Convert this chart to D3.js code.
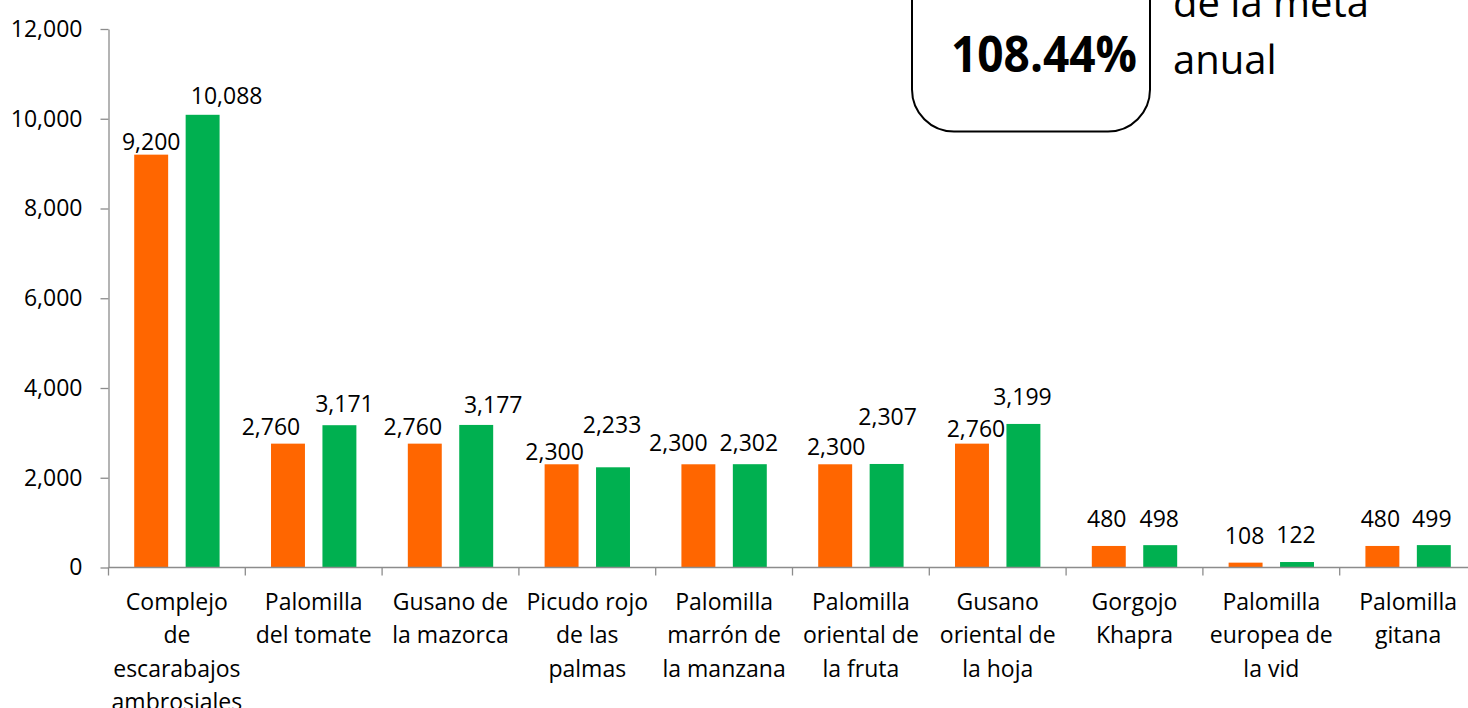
<!DOCTYPE html>
<html>
<head>
<meta charset="utf-8">
<script src="https://cdn.jsdelivr.net/npm/d3@7"></script>
<style>
  body { margin: 0; background: #fff; }
  svg text { font-family: "Open Sans", sans-serif; fill: #000; }
</style>
</head>
<body>
<svg id="chart" width="1468" height="708"></svg>
<script>
// data
const categories = [
  "Complejo\nde\nescarabajos\nambrosiales",
  "Palomilla\ndel tomate",
  "Gusano de\nla mazorca",
  "Picudo rojo\nde las\npalmas",
  "Palomilla\nmarrón de\nla manzana",
  "Palomilla\noriental de\nla fruta",
  "Gusano\noriental de\nla hoja",
  "Gorgojo\nKhapra",
  "Palomilla\neuropea de\nla vid",
  "Palomilla\ngitana"
]
const meta     = [9200, 2760, 2760, 2300, 2300, 2300, 2760, 480, 108, 480]
const logrado  = [10088, 3171, 3177, 2233, 2302, 2307, 3199, 498, 122, 499]
const yTicks   = [0, 2000, 4000, 6000, 8000, 10000, 12000]
const avance   = "108.44%"
const avanceTxt = ["de la meta", "anual"]

// label nudges (Excel placed some labels off-centre)
const nudgeMeta    = [[0,-5],[-17,-9],[-12,-9],[-7,-4],[-20,-13],[1,-9],[4,-7],[-2,-19],[-1,-19],[-2,-19]]
const nudgeLogrado = [[24,-11],[5,-13],[17,-12],[-1,-34],[-1,-13],[1,-39],[-1,-19],[-1,-18],[-1,-19],[-2,-18]]

const colors = {meta: "#FF6600", logrado: "#00B050"}
const axisColor = "#8c8c8c"

const svg = d3.select("#chart")
const plotLeft = 108.5, plotTop = 29, plotBottom = 567.5, bandW = 136.8

const x = d3.scaleBand()
    .domain(categories)
    .range([plotLeft, plotLeft + bandW * categories.length])
    .paddingInner(0).paddingOuter(0)

const xSub = d3.scaleBand()
    .domain(["meta", "logrado"])
    .range([0, x.bandwidth()])
    .paddingInner(0.34).paddingOuter(0.5)

const y = d3.scaleLinear()
    .domain([0, 12000])
    .range([plotBottom, plotTop])

const rows = categories.map((c, i) => ({cat: c, meta: meta[i], logrado: logrado[i], i: i}))

// bars
const groups = svg.selectAll(".cat")
    .data(rows)
    .join("g")
    .attr("class", "cat")
    .attr("transform", d => `translate(${x(d.cat)},0)`)

const series = ["meta", "logrado"]
groups.selectAll("rect")
    .data(d => series.map(s => ({s: s, v: d[s], i: d.i})))
    .join("rect")
    .attr("x", d => xSub(d.s))
    .attr("width", xSub.bandwidth())
    .attr("y", d => y(d.v))
    .attr("height", d => y(0) - y(d.v))
    .attr("fill", d => colors[d.s])

// data labels
groups.selectAll(".lbl")
    .data(d => series.map(s => ({s: s, v: d[s], i: d.i})))
    .join("text")
    .attr("class", "lbl")
    .attr("text-anchor", "middle")
    .attr("font-size", 23)
    .attr("x", d => {
        const n = d.s === "meta" ? nudgeMeta[d.i] : nudgeLogrado[d.i]
        return xSub(d.s) + xSub.bandwidth() / 2 + n[0]
    })
    .attr("y", d => {
        const n = d.s === "meta" ? nudgeMeta[d.i] : nudgeLogrado[d.i]
        return y(d.v) + n[1]
    })
    .text(d => d3.format(",")(d.v))

// Y axis
const yAxis = d3.axisLeft(y).tickValues(yTicks).tickFormat(d3.format(","))
    .tickSize(8).tickSizeOuter(0).tickPadding(18)
const gy = svg.append("g").attr("transform", `translate(${plotLeft},0)`).call(yAxis)
gy.select(".domain").attr("stroke", axisColor).attr("stroke-width", 1.3)
gy.selectAll(".tick line").attr("stroke", axisColor).attr("stroke-width", 1.3)
gy.selectAll(".tick text").attr("font-size", 23).attr("font-family", "Open Sans").attr("fill", "#000")

// X axis: line + separator ticks at band edges
svg.append("line")
    .attr("x1", plotLeft).attr("x2", x.range()[1])
    .attr("y1", y(0)).attr("y2", y(0))
    .attr("stroke", axisColor).attr("stroke-width", 1.3)

const edges = categories.map(c => x(c)).concat([x.range()[1]])
svg.selectAll(".sep")
    .data(edges)
    .join("line")
    .attr("class", "sep")
    .attr("x1", d => d).attr("x2", d => d)
    .attr("y1", y(0)).attr("y2", y(0) + 8)
    .attr("stroke", axisColor).attr("stroke-width", 1.3)

// category labels
const catLbl = svg.selectAll(".catlbl")
    .data(categories)
    .join("text")
    .attr("class", "catlbl")
    .attr("text-anchor", "middle")
    .attr("font-size", 23)
    .attr("transform", d => `translate(${x(d) + x.bandwidth() / 2},610)`)

catLbl.selectAll("tspan")
    .data(d => d.split("\n"))
    .join("tspan")
    .attr("x", 0)
    .attr("y", (d, i) => i * 33.3)
    .text(d => d)

// box with the annual progress
svg.append("rect")
    .attr("x", 912).attr("y", -80)
    .attr("width", 238).attr("height", 211.5)
    .attr("rx", 42).attr("ry", 42)
    .attr("fill", "#fff")
    .attr("stroke", "#000").attr("stroke-width", 2)

svg.append("text")
    .attr("x", 951).attr("y", 71.5)
    .attr("font-size", 50)
    .attr("font-weight", "bold")
    .attr("textLength", 186)
    .attr("lengthAdjust", "spacingAndGlyphs")
    .text(avance)

svg.selectAll(".avtxt")
    .data(avanceTxt)
    .join("text")
    .attr("class", "avtxt")
    .attr("x", 1173)
    .attr("y", (d, i) => 17 + i * 56.5)
    .attr("font-size", 40)
    .text(d => d)
</script>
</body>
</html>
